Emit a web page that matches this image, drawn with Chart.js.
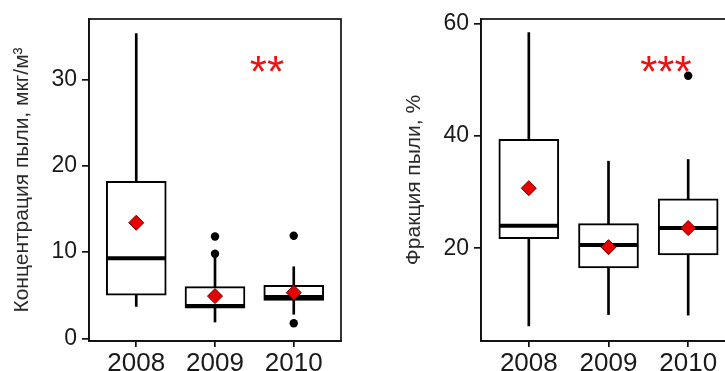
<!DOCTYPE html>
<html><head><meta charset="utf-8">
<script src="https://cdn.jsdelivr.net/npm/chart.js@4/dist/chart.umd.min.js"></script>
<style>
html,body{margin:0;padding:0;background:#fff;overflow:hidden;width:725px;height:371px}
.pane{position:absolute;top:0;height:371px}
</style></head><body>
<div class="pane" style="left:0;width:345px"><canvas id="cConc"></canvas></div>
<div class="pane" style="left:392px;width:348px"><canvas id="cFrac"></canvas></div>
<script>
// ===== data =====
var years=['2008','2009','2010'];
var xPos=[1,2,3];

// left: концентрация пыли, мкг/м3
var concLo=[3.7,1.9,2.8], concQ1=[5.0,3.5,4.4], concMed=[9.3,3.75,4.8], concQ3=[18.2,6.0,6.15], concHi=[35.3,9.6,8.3];
var concMean=[13.4,4.9,5.3];
var concOut=[[],[9.8,11.8],[11.9,1.75]];
var concTicks=[0,10,20,30];
var concRange=[-0.3,37];
var concNote={x:2.66,y:31.5,text:'**'};

// right: фракция пыли, %
var fracLo=[6.2,8.2,8.1], fracQ1=[21.7,16.5,18.8], fracMed=[24.0,20.6,23.6], fracQ3=[39.4,24.4,28.8], fracHi=[58.4,35.5,35.8];
var fracMean=[30.7,20.2,23.6];
var fracOut=[[],[],[50.7]];
var fracTicks=[20,40,60];
var fracRange=[3.5,60.8];
var fracNote={x:2.72,y:52.3,text:'***'};

var FONT='"Liberation Sans", Arial, sans-serif';

// frame round the panel + significance stars
var framePlugin={id:'frame',afterDatasetsDraw:function(chart,args,opts){
 var a=chart.chartArea, ctx=chart.ctx;
 ctx.save();
 ctx.strokeStyle='#111';ctx.lineWidth=1.7;
 ctx.strokeRect(a.left,a.top,a.right-a.left,a.bottom-a.top);
 var n=opts.note;
 if(n){
  ctx.fillStyle='#f01010';ctx.font='44px '+FONT;ctx.textAlign='center';ctx.textBaseline='middle';
  ctx.fillText(n.text,chart.scales.x.getPixelForValue(n.x),chart.scales.y.getPixelForValue(n.y)+8);
 }
 ctx.restore();
}};

function pts(vals){return vals.map(function(v,i){return {x:xPos[i],y:v};});}
function outPts(list){var r=[];list.forEach(function(vs,i){vs.forEach(function(v){r.push({x:xPos[i],y:v});});});return r;}

function makeBox(id,lo,q1,med,q3,hi,mean,out,ticks,range,note,title){
 return new Chart(document.getElementById(id),{
  type:'bar',
  data:{datasets:[
   {type:'line',label:'mean',data:pts(mean),showLine:false,pointStyle:'rectRot',pointRadius:7.5,pointBackgroundColor:'#e80000',pointBorderColor:'#600',pointBorderWidth:1,order:0},
   {type:'line',label:'out',data:outPts(out),showLine:false,pointStyle:'circle',pointRadius:4.2,pointBackgroundColor:'#000',pointBorderColor:'#000',pointBorderWidth:0,order:1},
   {type:'line',label:'median',data:pts(med),showLine:false,pointStyle:'line',pointRadius:29.5,pointBorderColor:'#000',pointBorderWidth:4,order:1},
   {label:'box',data:xPos.map(function(x,i){return {x:x,y:[q1[i],q3[i]]};}),backgroundColor:'#fff',borderColor:'#000',borderWidth:2,borderSkipped:false,barThickness:60,grouped:false,order:2},
   {label:'whisker',data:xPos.map(function(x,i){return {x:x,y:[lo[i],hi[i]]};}),backgroundColor:'#000',borderWidth:0,barThickness:2,grouped:false,order:3}
  ]},
  options:{
   responsive:true,maintainAspectRatio:false,animation:false,events:[],
   layout:{autoPadding:false,padding:{top:19,right:4,left:0,bottom:0}},
   plugins:{legend:{display:false},tooltip:{enabled:false},frame:{note:note}},
   scales:{
    x:{type:'linear',min:0.4,max:3.6,offset:false,
     afterBuildTicks:function(s){s.ticks=xPos.map(function(v){return {value:v};});},
     afterFit:function(s){s.height=30;},
     grid:{display:true,drawOnChartArea:false,drawTicks:true,tickLength:6,color:'#111',lineWidth:1.7,offset:false},
     border:{display:true,color:'#111',width:1.7},
     ticks:{padding:1,color:'#1a1a1a',font:{family:FONT,size:26},maxRotation:0,callback:function(v,i){return years[i];}}},
    y:{type:'linear',min:range[0],max:range[1],
     afterBuildTicks:function(s){s.ticks=ticks.map(function(v){return {value:v};});},
     afterFit:function(s){s.width=89;},
     grid:{display:true,drawOnChartArea:false,drawTicks:true,tickLength:7,color:'#111',lineWidth:1.7},
     border:{display:true,color:'#111',width:1.7},
     ticks:{padding:5,color:'#1a1a1a',font:{family:FONT,size:23}},
     title:{display:true,text:title,color:'#2a2a2a',font:{family:FONT,size:21},padding:{top:10,bottom:0}}}
   }
  },
  plugins:[framePlugin]
 });
}

makeBox('cConc',concLo,concQ1,concMed,concQ3,concHi,concMean,concOut,concTicks,concRange,concNote,'Концентрация пыли, мкг/м³');
makeBox('cFrac',fracLo,fracQ1,fracMed,fracQ3,fracHi,fracMean,fracOut,fracTicks,fracRange,fracNote,'Фракция пыли, %');
</script>
</body></html>
